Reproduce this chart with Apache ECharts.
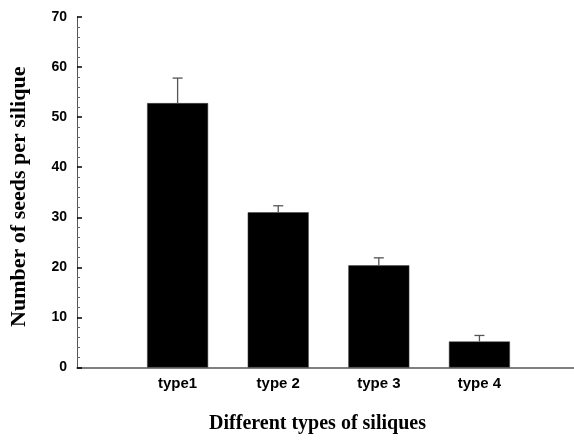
<!DOCTYPE html>
<html><head><meta charset="utf-8">
<script src="https://cdn.jsdelivr.net/npm/echarts@6/dist/echarts.min.js"></script>
<style>html,body{margin:0;padding:0;background:#fff}#c{width:574px;height:440px}</style>
</head><body><div id="c"></div>
<script>
const categories = ['type1', 'type 2', 'type 3', 'type 4'];
const means = [52.8, 31.0, 20.4, 5.2];
const errors = [5.0, 1.3, 1.5, 1.2];
const yTicks = [0, 10, 20, 30, 40, 50, 60, 70];

const chart = echarts.init(document.getElementById('c'), null, {renderer: 'canvas'});
const barData = means.map((v, i) => [i + 1, v]);
const errData = means.map((v, i) => [i + 1, v, v + errors[i]]);

chart.setOption({
  animation: false,
  grid: {left: 77, right: 0, top: 17, bottom: 72.5, containLabel: false},
  xAxis: {
    type: 'value', min: 0, max: 4.94, interval: 1,
    splitLine: {show: false},
    axisTick: {show: false},
    axisLine: {lineStyle: {color: '#555', width: 1.5}},
    axisLabel: {
      margin: 9, color: '#000', fontFamily: 'Liberation Sans', fontWeight: 'bold', fontSize: 15,
      showMaxLabel: false,
      formatter: v => (v >= 1 && v <= categories.length && Number.isInteger(v)) ? categories[v - 1] : ''
    },
    name: 'Different types of siliques', nameLocation: 'middle', nameGap: 46,
    nameTextStyle: {fontFamily: 'Liberation Serif', fontWeight: 'bold', fontSize: 20, color: '#000', padding: [0, 16, 0, 0]}
  },
  yAxis: {
    type: 'value', min: yTicks[0], max: yTicks[yTicks.length - 1], interval: 10,
    splitLine: {show: false},
    axisLine: {show: true, lineStyle: {color: '#555', width: 1}},
    axisTick: {show: true, inside: true, length: 5, lineStyle: {color: '#000', width: 1.5}},
    minorTick: {show: true, splitNumber: 5, length: 3, lineStyle: {color: '#666', width: 1}},
    axisLabel: {margin: 10, color: '#000', fontFamily: 'Liberation Sans', fontWeight: 'bold', fontSize: 14},
    name: 'Number of seeds per silique', nameLocation: 'middle', nameGap: 47,
    nameTextStyle: {fontFamily: 'Liberation Serif', fontWeight: 'bold', fontSize: 22, color: '#000', padding: [0, 9, 0, 0]}
  },
  series: [
    {
      type: 'bar', data: barData, barWidth: 61,
      itemStyle: {color: '#000', borderColor: '#444', borderWidth: 0.5}
    },
    {
      type: 'custom', data: errData, z: 3,
      renderItem: (params, api) => {
        const base = api.coord([api.value(0), api.value(1)]);
        const top = api.coord([api.value(0), api.value(2)]);
        const hw = 5;
        return {
          type: 'group',
          children: [
            {type: 'line', shape: {x1: base[0], y1: base[1], x2: top[0], y2: top[1]}, style: {stroke: '#555', lineWidth: 1.3}},
            {type: 'line', shape: {x1: top[0] - hw, y1: top[1], x2: top[0] + hw, y2: top[1]}, style: {stroke: '#555', lineWidth: 1.3}}
          ]
        };
      }
    }
  ]
});
</script></body></html>
